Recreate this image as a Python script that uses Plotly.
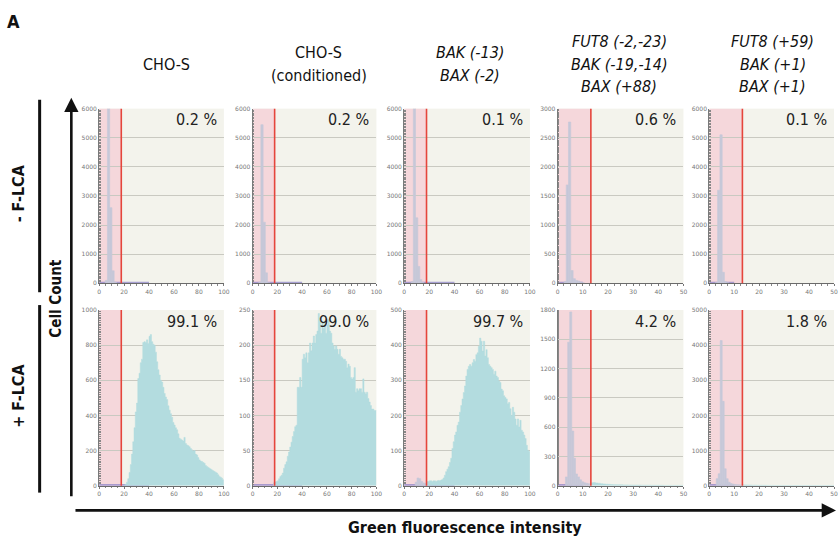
import plotly.graph_objects as go

W, H = 840, 543

# ---- column headers and row labels -------------------------------------
col_titles = [
    ["CHO-S"],
    ["CHO-S", "(conditioned)"],
    ["<i>BAK (-13)</i>", "<i>BAX (-2)</i>"],
    ["<i>FUT8 (-2,-23)</i>", "<i>BAK (-19,-14)</i>", "<i>BAX (+88)</i>"],
    ["<i>FUT8 (+59)</i>", "<i>BAK (+1)</i>", "<i>BAX (+1)</i>"],
]
row_labels = ["- F-LCA", "+ F-LCA"]

# percent of cells above the gate
pct_minus = ["0.2 %", "0.2 %", "0.1 %", "0.6 %", "0.1 %"]
pct_plus = ["99.1 %", "99.0 %", "99.7 %", "4.2 %", "1.8 %"]

# axis extents per column / row
x_max = [100, 100, 100, 50, 50]
y_max_minus = [6000, 6000, 6000, 3000, 6000]
y_max_plus = [1000, 250, 500, 1800, 5000]
gate = [17.8, 17.8, 17.8, 13.2, 13.3]

# ---- unstained / negative populations (gray histograms) ----------------
gray_x_minus = [
    [5.8, 7.6, 9.4, 11.2, 13.0],
    [5.8, 7.6, 9.4, 11.1, 12.9],
    [6.4, 8.2, 10.0, 11.6, 13.2, 14.8],
    [3.0, 3.85, 4.75, 5.7, 6.6, 7.5, 8.4, 9.3, 10.2],
    [2.9, 3.8, 4.75, 5.65, 6.55, 7.45],
]
gray_y_minus = [
    [100, 6400, 2600, 430, 40],
    [40, 5450, 2100, 360, 20],
    [60, 6400, 2250, 580, 130, 30],
    [30, 1690, 2770, 220, 80, 50, 40, 20, 10],
    [30, 3200, 5100, 380, 60, 20],
]
gray_w_minus = [1.8, 1.8, 1.7, 0.9, 0.9]

gray_x_plus = [
    [],
    [17.5, 18.5],
    [9.5, 11.0, 12.5, 14.0, 15.5, 17.0],
    [3.5, 4.4, 5.2, 6.0, 6.7, 7.5, 8.3, 9.1, 9.9, 10.7, 11.5, 12.3],
    [3.2, 4.0, 4.8, 5.6, 6.4, 7.2, 8.0, 8.8, 9.6, 10.4, 11.2, 12.0, 12.8],
]
gray_y_plus = [
    [],
    [4, 5],
    [10, 22, 20, 12, 8, 6],
    [90, 1470, 1780, 560, 280, 120, 90, 60, 40, 30, 25, 20],
    [200, 340, 4130, 2400, 480, 200, 100, 60, 45, 35, 30, 25, 20],
]
gray_w_plus = [1.0, 1.0, 1.5, 0.8, 0.8]

# ---- F-LCA stained populations (cyan histograms, 1-unit bins) ----------
cyan_start = [20, 17, 18, 13, 13]
cyan_counts = [
    [3, 8, 20, 40, 75, 120, 180, 250, 330, 420, 470, 610, 640, 700, 720, 815,
     820, 815, 830, 810, 850, 860, 820, 805, 800, 760, 705, 660, 630, 600, 590,
     560, 525, 505, 490, 455, 430, 410, 390, 360, 345, 330, 318, 295, 270, 265,
     260, 255, 275, 240, 232, 228, 222, 212, 204, 198, 200, 180, 175, 160, 147,
     140, 138, 132, 128, 115, 109, 104, 100, 95, 90, 85, 81, 76, 72, 62, 53,
     48, 43, 34],
    [4, 5, 6, 7, 10, 13, 15, 18, 25, 30, 34, 42, 48, 55, 62, 70, 77, 84, 86,
     140, 140, 154, 140, 180, 187, 182, 189, 175, 189, 203, 192, 203, 213, 203,
     215, 220, 245, 234, 217, 234, 224, 234, 217, 229, 236, 220, 217, 203, 199,
     194, 199, 194, 187, 194, 184, 182, 180, 180, 177, 168, 173, 170, 154, 152,
     154, 168, 133, 138, 135, 138, 138, 133, 152, 133, 131, 133, 124, 119, 114,
     109, 109, 107, 107],
    [12, 12, 14, 14, 12, 14, 14, 12, 14, 15, 14, 16, 18, 22, 30, 40, 47, 54,
     66, 78, 106, 125, 144, 153, 172, 181, 209, 228, 247, 265, 284, 312, 331,
     340, 345, 340, 350, 359, 354, 373, 378, 397, 420, 411, 383, 411, 369, 387,
     364, 345, 340, 336, 331, 317, 326, 312, 308, 298, 294, 275, 270, 256, 251,
     247, 233, 237, 219, 200, 223, 209, 190, 172, 190, 167, 186, 158, 153, 144,
     134, 115, 101, 97],
    [30, 32, 28, 25, 20, 18, 15, 14, 12, 11, 10, 10, 9, 8, 8, 7, 7, 6, 6, 6, 5,
     5, 5, 5, 4, 4, 4, 4, 4, 3, 3, 3, 3, 3, 3, 3, 3],
    [25, 22, 20, 18, 15, 14, 12, 11, 10, 10, 9, 8, 8, 7, 7, 6, 6, 6, 5, 5, 5,
     5, 4, 4, 4, 4, 4, 3, 3, 3, 3, 3, 3, 3, 3, 3, 3],
]

# low-level debris population along the baseline (purple)
purple_span = [40, 40, 40, 10, 10]
purple_minus = [45, 45, 45, 22, 45]
purple_plus = [8, 2, 4, 14, 38]

# ---- styling ------------------------------------------------------------
BG = "#f3f3ec"
PINK = "rgba(246,205,214,0.75)"
RED = "#e5453c"
GRAY = "#c6c8d8"
CYAN = "#b3dcdf"
PURPLE = "#8f86c9"
GRID = "#c9c9c1"
NARROW = "Liberation Sans Narrow, DejaVu Sans Condensed, Roboto Condensed, sans-serif"

col_px = [(98, 224), (253, 378), (406, 533), (561, 688), (714, 840)]
row_px = [(106, 283), (310, 488)]


def fx(px):
    return px / W


def fy(py):
    return 1 - py / H


fig = go.Figure()
layout = dict(
    width=W, height=H, margin=dict(l=0, r=0, t=0, b=0),
    paper_bgcolor="white", plot_bgcolor=BG, showlegend=False,
    barmode="overlay", hovermode=False,
)
shapes = []
annotations = []

n = 0
for r in range(2):
    for c in range(5):
        n += 1
        xa = "x" if n == 1 else f"x{n}"
        ya = "y" if n == 1 else f"y{n}"
        xkey = "xaxis" if n == 1 else f"xaxis{n}"
        ykey = "yaxis" if n == 1 else f"yaxis{n}"
        ymax = y_max_minus[c] if r == 0 else y_max_plus[c]
        xm = x_max[c]

        layout[xkey] = dict(
            domain=[fx(col_px[c][0]), fx(col_px[c][1])], anchor=ya,
            range=[0, xm], dtick=xm / 5, showgrid=False, zeroline=False,
            showline=True, linecolor="#6a6a6a", linewidth=1,
            ticks="outside", ticklen=2, tickcolor="#777",
            minor=dict(ticks="outside", ticklen=1.5, dtick=xm / 20,
                       tickcolor="#888"),
            tickfont=dict(size=6, color="#777", family="DejaVu Sans"),
            fixedrange=True,
        )
        layout[ykey] = dict(
            domain=[fy(row_px[r][1]), fy(row_px[r][0])], anchor=xa,
            range=[0, ymax], dtick=ymax / 6 if ymax in (6000, 1800, 3000) else ymax / 5,
            showgrid=True, gridcolor=GRID, gridwidth=1, zeroline=False,
            showline=True, linecolor="#7a7a7a", linewidth=1,
            ticks="", minor=dict(ticks="inside", ticklen=1.5,
                                 tickcolor="#888", nticks=30),
            tickfont=dict(size=6, color="#777", family="DejaVu Sans"),
            fixedrange=True,
        )

        # gated (negative) region and gate line
        shapes.append(dict(type="rect", xref=xa, yref=f"{ya} domain",
                           x0=0, x1=gate[c], y0=0, y1=1, fillcolor=PINK,
                           line_width=0, layer="below"))
        shapes.append(dict(type="line", xref=xa, yref=f"{ya} domain",
                           x0=gate[c], x1=gate[c], y0=0, y1=1,
                           line=dict(color=RED, width=1.6), layer="above"))

        # purple baseline population
        pv = purple_minus[c] if r == 0 else purple_plus[c]
        fig.add_trace(go.Bar(x=[purple_span[c] / 2], y=[pv],
                             width=[purple_span[c]], marker_color=PURPLE,
                             marker_line_width=0, opacity=0.75,
                             xaxis=xa, yaxis=ya))

        # cyan stained population (only for + F-LCA), drawn as a filled
        # step outline over 1-unit bins so adjacent bins join seamlessly
        if r == 1:
            cc = cyan_counts[c]
            edges = [cyan_start[c] + i for i in range(len(cc) + 1)]
            fig.add_trace(go.Scatter(
                x=edges, y=cc + [cc[-1]], mode="lines", line_shape="hv",
                line=dict(color=CYAN, width=0.5), fill="tozeroy",
                fillcolor=CYAN, xaxis=xa, yaxis=ya))

        # gray negative population
        gx = gray_x_minus[c] if r == 0 else gray_x_plus[c]
        gy = gray_y_minus[c] if r == 0 else gray_y_plus[c]
        gw = gray_w_minus[c] if r == 0 else gray_w_plus[c]
        if gx:
            fig.add_trace(go.Bar(x=gx, y=gy, width=gw, marker_color=GRAY,
                                 marker_line=dict(color=GRAY, width=0.6),
                                 xaxis=xa, yaxis=ya))

        # percentage label
        pct = pct_minus[c] if r == 0 else pct_plus[c]
        annotations.append(dict(
            text=pct, xref=f"{xa} domain", yref=f"{ya} domain",
            x=0.96, y=0.935, xanchor="right", yanchor="middle",
            showarrow=False, font=dict(size=16, color="#222", family=NARROW)))

# column titles
title_cx = [166, 320, 472, 623, 778]
for c, lines in enumerate(col_titles):
    k = len(lines)
    centre = 61
    for i, t in enumerate(lines):
        py = centre + (i - (k - 1) / 2) * 23
        annotations.append(dict(
            text=t, xref="paper", yref="paper", x=fx(title_cx[c]), y=fy(py),
            xanchor="center", yanchor="middle", showarrow=False,
            font=dict(size=16, color="#111", family=NARROW)))

# panel letter
annotations.append(dict(text="<b>A</b>", xref="paper", yref="paper",
                        x=fx(12), y=fy(18), xanchor="center", yanchor="middle",
                        showarrow=False,
                        font=dict(size=18, color="#111", family=NARROW)))

# row labels and brackets
row_label_cy = [192, 397]
for r, lab in enumerate(row_labels):
    annotations.append(dict(text=f"<b>{lab}</b>", xref="paper", yref="paper",
                            x=fx(17), y=fy(row_label_cy[r]), textangle=-90,
                            xanchor="center", yanchor="middle", showarrow=False,
                            font=dict(size=16, color="#111", family=NARROW)))
bracket_px = [(97, 292), (305, 495)]
for y0, y1 in bracket_px:
    shapes.append(dict(type="line", xref="paper", yref="paper",
                       x0=fx(38), x1=fx(38), y0=fy(y0), y1=fy(y1),
                       line=dict(color="#111", width=3)))

# axis titles with arrows
annotations.append(dict(text="<b>Cell Count</b>", xref="paper", yref="paper",
                        x=fx(55), y=fy(298), textangle=-90, xanchor="center",
                        yanchor="middle", showarrow=False,
                        font=dict(size=15, color="#111", family=NARROW)))
annotations.append(dict(text="", xref="paper", yref="paper",
                        x=fx(70), y=fy(95), ax=0, ay=400, showarrow=True,
                        arrowhead=2, arrowsize=1.1, arrowwidth=2.6,
                        arrowcolor="#111"))
annotations.append(dict(text="", xref="paper", yref="paper",
                        x=fx(842), y=fy(513), ax=-762, ay=0, showarrow=True,
                        arrowhead=2, arrowsize=1.1, arrowwidth=2.6,
                        arrowcolor="#111"))
annotations.append(dict(text="<b>Green fluorescence intensity</b>",
                        xref="paper", yref="paper", x=fx(467), y=fy(530),
                        xanchor="center", yanchor="middle", showarrow=False,
                        font=dict(size=16, color="#111", family=NARROW)))

layout["shapes"] = shapes
layout["annotations"] = annotations
fig.update_layout(**layout)
fig.write_html("out.html")
